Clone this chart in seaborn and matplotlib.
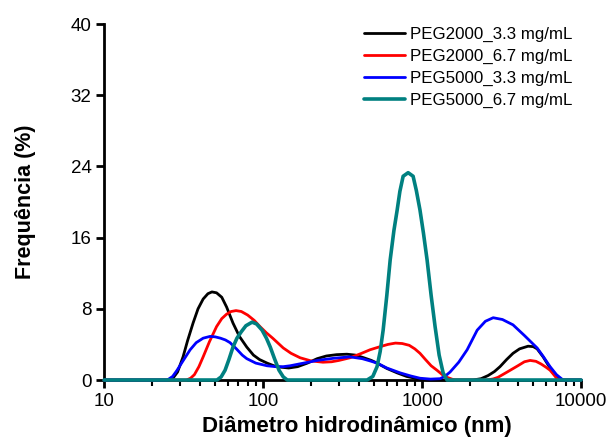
import matplotlib
matplotlib.use("Agg")
import matplotlib.pyplot as plt
import seaborn as sns
import pandas as pd
from matplotlib.ticker import LogLocator, FixedLocator, NullFormatter

# ---- data ----
labels = ["PEG2000_3.3 mg/mL", "PEG2000_6.7 mg/mL", "PEG5000_3.3 mg/mL", "PEG5000_6.7 mg/mL"]

x_peg2000_33 = [10, 25, 27, 29, 31.4, 33.5, 36.3, 39, 42, 45, 47.7, 51, 55, 59, 64.7, 71, 79, 87, 95,
                106, 117, 128, 145, 165, 190, 219, 250, 290, 337, 380, 430, 480, 521, 600, 697, 800,
                931, 1100, 2090, 2350, 2600, 2850, 3090, 3400, 3730, 4100, 4640, 5000, 5290, 5770,
                6200, 6660, 7000, 7400, 10000]
y_peg2000_33 = [0, 0, 0.15, 0.9, 2.6, 4.4, 6.4, 8.0, 9.1, 9.7, 9.9, 9.8, 9.3, 8.2, 6.4, 4.9, 3.7, 2.8, 2.3,
                1.9, 1.6, 1.45, 1.35, 1.5, 1.9, 2.4, 2.7, 2.85, 2.9, 2.8, 2.5, 2.2, 1.9, 1.3, 0.8, 0.4,
                0.15, 0, 0, 0.15, 0.5, 0.95, 1.5, 2.3, 3.0, 3.5, 3.8, 3.75, 3.5, 2.6,
                1.7, 0.9, 0.35, 0, 0]

x_peg2000_67 = [10, 33, 35, 37, 39.5, 42, 46, 51, 55, 59, 63, 67.6, 73, 80, 88, 95.7, 105, 115, 125, 134,
                150, 171, 200, 238, 270, 300, 352, 410, 471, 545, 610, 680, 750, 830, 900, 970, 1050,
                1140, 1240, 1340, 1435, 1540, 1610, 2560, 2800, 3000, 3430, 4000, 4400, 4780, 5200,
                5600, 6000, 6380, 6800, 7160, 10000]
y_peg2000_67 = [0, 0, 0.2, 0.6, 1.5, 2.6, 4.3, 6.0, 6.9, 7.4, 7.7, 7.8, 7.7, 7.3, 6.7, 6.0, 5.3, 4.7, 4.1, 3.6,
                3.0, 2.5, 2.15, 2.0, 2.05, 2.2, 2.5, 2.95, 3.4, 3.75, 4.0, 4.15, 4.1, 3.9, 3.5, 3.0, 2.3,
                1.6, 1.1, 0.6, 0.3, 0.1, 0, 0, 0.12, 0.3, 0.9, 1.6, 2.05, 2.2, 2.1,
                1.8, 1.45, 1.1, 0.5, 0, 0]

x_peg5000_33 = [10, 25, 27, 28.8, 31.5, 34.8, 38, 42, 46.4, 50, 54, 58, 62, 68, 74, 79, 90, 106, 120, 134,
                148, 180, 219, 280, 352, 420, 470, 521, 600, 728, 850, 970, 1130, 1300, 1400, 1500, 1700,
                1920, 2220, 2500, 2800, 3200, 3730, 4400, 5290, 5800, 6380, 7000, 7700, 10000]
y_peg5000_33 = [0, 0, 0.4, 1.1, 2.2, 3.4, 4.2, 4.7, 4.9, 4.85, 4.7, 4.5, 4.2, 3.5, 2.8, 2.4, 1.9, 1.6, 1.5, 1.5,
                1.6, 1.9, 2.2, 2.45, 2.6, 2.4, 2.15, 1.9, 1.35, 0.8, 0.45, 0.2, 0.1, 0.15, 0.45, 0.9, 2.0,
                3.4, 5.6, 6.6, 7.0, 6.8, 6.2, 5.0, 3.6, 2.6, 1.5, 0.6, 0, 0]

x_peg5000_67 = [10, 51.3, 54.5, 57.7, 61, 64.7, 68.5, 72.8, 78, 85.3, 91, 98.6, 105, 111, 118, 126, 134, 142,
                451, 490, 521, 545, 569, 600, 630, 665, 697, 725, 760, 817, 878, 920, 970, 1020, 1075,
                1140, 1207, 1280, 1356, 1435, 10000]
y_peg5000_67 = [0, 0, 0.35, 1.1, 2.3, 3.7, 4.7, 5.4, 6.1, 6.5, 6.3, 5.6, 4.7, 3.7, 2.4, 1.1, 0.35, 0,
                0, 0.4, 1.5, 3.2, 5.6, 9.5, 13.5, 16.8, 19.1, 21.2, 22.9, 23.3, 22.9, 21.3, 19.1, 16.5, 13.5,
                9.5, 6.0, 2.8, 0.8, 0, 0]

colors = ["#000000", "#FF0000", "#0000FF", "#008080"]
widths = [2.0, 2.0, 2.0, 2.6]

x_ticks = [10, 100, 1000, 10000]
y_ticks = [0, 8, 16, 24, 32, 40]

series = [(x_peg2000_33, y_peg2000_33), (x_peg2000_67, y_peg2000_67),
          (x_peg5000_33, y_peg5000_33), (x_peg5000_67, y_peg5000_67)]

# ---- plot ----
sns.set_theme(style="ticks")
plt.rcParams['font.family'] = ['Liberation Sans', 'DejaVu Sans']

fig = plt.figure(figsize=(6.13, 4.38), dpi=100)
ax = fig.add_axes([0.1697, 0.1324, 0.948 - 0.1697, 0.945 - 0.1324])

for (xs, ys), lab, c, w in zip(series, labels, colors, widths):
    df = pd.DataFrame({"x": xs, "y": ys})
    sns.lineplot(data=df, x="x", y="y", ax=ax, color=c, linewidth=w, label=lab,
                 estimator=None, sort=False, clip_on=False, zorder=3)

ax.set_xscale("log")
ax.set_xlim(10, 10000)
ax.set_ylim(0, 40)
ax.xaxis.set_major_locator(FixedLocator(x_ticks))
ax.set_xticklabels([str(t) for t in x_ticks])
ax.xaxis.set_minor_locator(LogLocator(base=10, subs=range(2, 10)))
ax.xaxis.set_minor_formatter(NullFormatter())
ax.yaxis.set_major_locator(FixedLocator(y_ticks))
ax.set_yticklabels([str(t) for t in y_ticks])

for s in ["top", "right"]:
    ax.spines[s].set_visible(False)
for s in ["left", "bottom"]:
    ax.spines[s].set_linewidth(2.0)
    ax.spines[s].set_color("black")

ax.tick_params(axis="both", which="major", direction="out", length=6, width=2.0,
               labelsize=13.5, colors="black", pad=3)
ax.tick_params(axis="x", which="minor", direction="out", length=4, width=1.5, colors="black")

ax.set_xlabel("Diâmetro hidrodinâmico (nm)", fontsize=16, fontweight="bold", color="black")
ax.xaxis.set_label_coords(0.53, -0.1)
ax.set_ylabel("Frequência (%)", fontsize=15.5, fontweight="bold", labelpad=25, color="black")

leg = ax.legend(loc="upper right", bbox_to_anchor=(0.995, 1.01), frameon=False, fontsize=12.2,
                handlelength=2.45, handletextpad=0.25, labelspacing=0.4, borderaxespad=0.0,
                borderpad=0.4)
for t in leg.get_texts():
    t.set_color("black")

fig.savefig("out.png", dpi=100)
